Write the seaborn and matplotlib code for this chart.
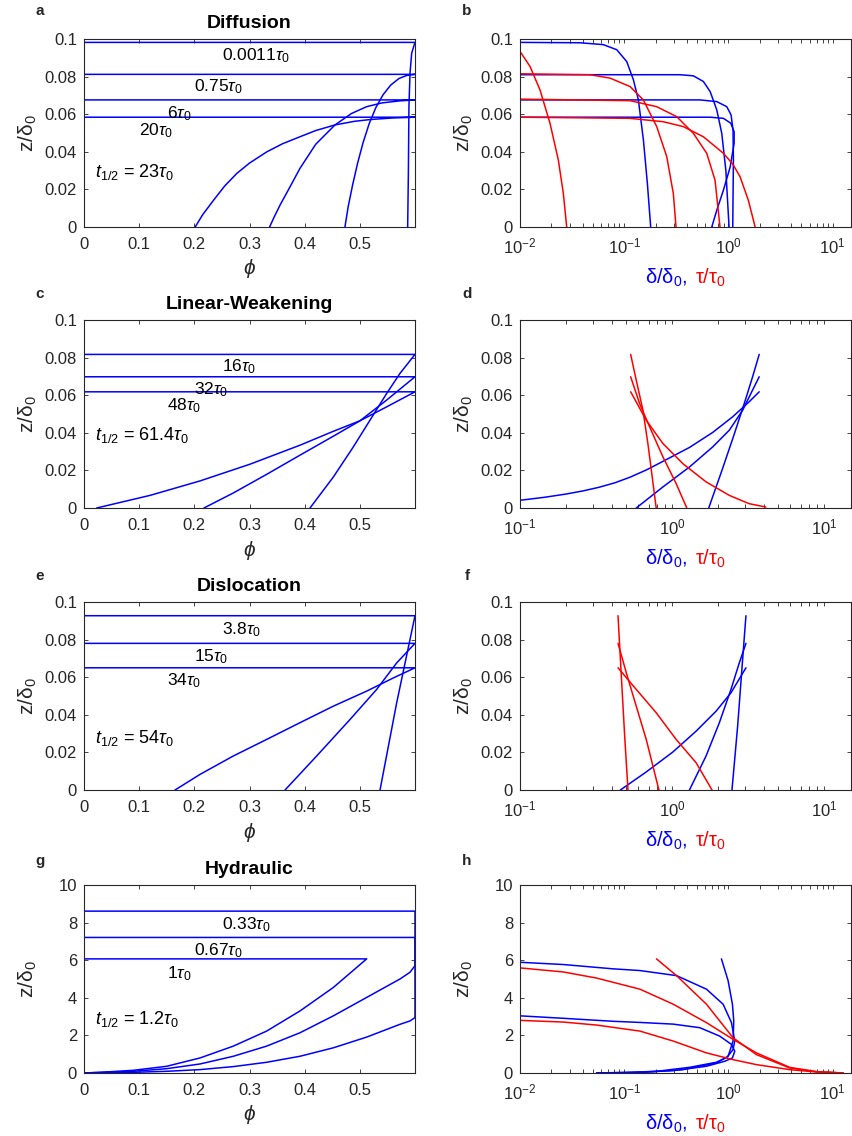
import matplotlib
matplotlib.use("Agg")
import matplotlib.pyplot as plt
import seaborn as sns
from matplotlib.ticker import FuncFormatter, FixedLocator
from matplotlib.offsetbox import TextArea, HPacker, AnchoredOffsetbox

sns.set_theme(style="ticks")
plt.rcParams.update({
    "font.family": ["Liberation Sans", "DejaVu Sans"],
    "mathtext.fontset": "custom",
    "mathtext.rm": "Liberation Sans",
    "mathtext.it": "Liberation Sans:italic",
    "mathtext.bf": "Liberation Sans:bold",
    "axes.edgecolor": "0.15",
    "axes.linewidth": 0.8,
    "xtick.color": "0.15",
    "ytick.color": "0.15",
    "axes.labelcolor": "0.15",
})

# --------------------------------------------------------------------------- #
# Data (phi profiles: top line then curve down to z=0)
# --------------------------------------------------------------------------- #

# (a) Diffusion
DIFF_LABELS = ["0.0011", "0.75", "6", "20"]
DIFF_PHI = [
    [0, 0.6, 0.594, 0.591, 0.589, 0.588, 0.5867],
    [0, 0.6, 0.586, 0.571, 0.556, 0.542, 0.529, 0.517, 0.506, 0.496, 0.487, 0.479, 0.473],
    [0, 0.6, 0.5728, 0.54, 0.5124, 0.485, 0.455, 0.42, 0.3915, 0.37, 0.356, 0.345, 0.3364],
    [0, 0.6, 0.56, 0.52, 0.49, 0.455, 0.42, 0.3915, 0.36, 0.3315, 0.30, 0.277, 0.255,
     0.2347, 0.215, 0.2015],
]
DIFF_Z = [
    [0.0982, 0.0982, 0.0925, 0.0819, 0.064, 0.0287, 0.0],
    [0.0812, 0.0812, 0.0807, 0.079, 0.0755, 0.0703, 0.0635, 0.055, 0.045, 0.034, 0.0225, 0.011, 0.0],
    [0.0676, 0.0676, 0.0671, 0.066, 0.064, 0.0604, 0.0543, 0.044, 0.0312, 0.0195, 0.012, 0.0055, 0.0],
    [0.0584, 0.0584, 0.058, 0.0572, 0.0562, 0.0543, 0.0513, 0.048, 0.0443, 0.04, 0.034, 0.0285,
     0.0218, 0.0142, 0.0065, 0.0],
]
# (b) Diffusion: slip (blue) and stress (red) vs depth
DIFF_DELTA = [
    [0.01, 0.0377, 0.063, 0.0848, 0.1057, 0.1225, 0.1368, 0.1528, 0.1668, 0.1795],
    [0.01, 0.344, 0.461, 0.575, 0.668, 0.773, 0.863, 0.944, 1.014],
    [0.01, 0.533, 0.773, 0.964, 1.06, 1.107, 1.116, 1.10],
    [0.01, 0.668, 0.895, 1.054, 1.134, 1.134, 1.04, 0.895, 0.773, 0.692],
]
DIFF_DELTA_Z = [
    [0.0982, 0.098, 0.097, 0.0943, 0.088, 0.0783, 0.0676, 0.0463, 0.0232, 0.0],
    [0.081, 0.081, 0.0804, 0.0774, 0.072, 0.0623, 0.0498, 0.0303, 0.0],
    [0.0676, 0.0676, 0.0667, 0.064, 0.0596, 0.0516, 0.0356, 0.0],
    [0.0584, 0.0584, 0.0578, 0.0552, 0.0507, 0.0445, 0.032, 0.0196, 0.0089, 0.0],
]
DIFF_TAU = [
    [0.01, 0.01248, 0.01556, 0.0194, 0.02333, 0.02606, 0.02806],
    [0.01, 0.047, 0.0731, 0.1138, 0.1525, 0.205, 0.256, 0.296, 0.314],
    [0.01, 0.1138, 0.205, 0.319, 0.461, 0.619, 0.744, 0.83],
    [0.01, 0.1138, 0.237, 0.369, 0.575, 0.895, 1.1, 1.294, 1.553, 1.804],
]
DIFF_TAU_Z = [
    [0.0934, 0.0854, 0.0729, 0.0552, 0.0356, 0.0178, 0.0],
    [0.0815, 0.081, 0.0792, 0.0747, 0.0676, 0.0534, 0.0374, 0.0178, 0.0],
    [0.068, 0.0672, 0.064, 0.0587, 0.0498, 0.0392, 0.0249, 0.0],
    [0.0584, 0.0578, 0.056, 0.0534, 0.048, 0.0392, 0.0335, 0.0267, 0.0142, 0.0],
]

# (c) Linear-Weakening
LW_LABELS = ["16", "32", "48"]
LW_PHI = [
    [0, 0.6, 0.5728, 0.5486, 0.5184, 0.4882, 0.452, 0.4097],
    [0, 0.6, 0.5486, 0.5003, 0.452, 0.3915, 0.3311, 0.2707, 0.2175],
    [0, 0.6, 0.5486, 0.5003, 0.452, 0.3915, 0.3009, 0.2103, 0.1196, 0.023],
]
LW_Z = [
    [0.0817, 0.0817, 0.0716, 0.0609, 0.0467, 0.0325, 0.0165, 0.0],
    [0.0698, 0.0698, 0.0574, 0.0464, 0.0382, 0.0281, 0.0179, 0.008, 0.0],
    [0.0618, 0.0618, 0.0538, 0.0464, 0.0408, 0.0334, 0.0233, 0.0144, 0.0067, 0.0],
]
# (d)
LW_DELTA = [
    [1.741, 2.128, 2.526, 2.982, 3.383, 3.738],
    [0.581, 0.870, 1.30, 1.849, 2.378, 2.908, 3.38, 3.738],
    [0.1, 0.145, 0.2, 0.26, 0.33, 0.42, 0.526, 0.68, 0.870, 1.30, 1.849, 2.50, 3.21, 3.738],
]
LW_DELTA_Z = [
    [0.0, 0.0201, 0.0378, 0.0556, 0.0698, 0.0817],
    [0.0, 0.0112, 0.0218, 0.0325, 0.0414, 0.052, 0.0627, 0.0698],
    [0.0041, 0.0057, 0.0074, 0.0091, 0.011, 0.0134, 0.0163, 0.0203, 0.0248, 0.0322, 0.0402,
     0.0485, 0.0565, 0.0618],
]
LW_TAU = [
    [0.534, 0.581, 0.643, 0.693, 0.740, 0.786],
    [0.534, 0.611, 0.711, 0.870, 1.063, 1.249],
    [0.534, 0.676, 0.870, 1.176, 1.672, 2.378, 3.21, 4.134],
]
LW_TAU_Z = [
    [0.0817, 0.068, 0.052, 0.0343, 0.0165, 0.0],
    [0.0698, 0.0556, 0.0432, 0.0272, 0.013, 0.0],
    [0.0618, 0.0467, 0.0343, 0.0236, 0.0139, 0.0067, 0.0023, 0.0005],
]

# (e) Dislocation
DISL_LABELS = ["3.8", "15", "34"]
DISL_PHI = [
    [0, 0.6, 0.5668, 0.5366],
    [0, 0.6, 0.5668, 0.5305, 0.4822, 0.4218, 0.3644],
    [0, 0.6, 0.5607, 0.5124, 0.452, 0.3915, 0.3311, 0.2707, 0.2103, 0.165],
]
DISL_Z = [
    [0.0927, 0.0927, 0.0464, 0.0],
    [0.078, 0.078, 0.0676, 0.0535, 0.0375, 0.0181, 0.0],
    [0.065, 0.065, 0.0596, 0.0526, 0.0446, 0.0358, 0.0269, 0.0181, 0.0083, 0.0],
]
# (f)
DISL_DELTA = [
    [2.475, 2.697, 2.908, 3.058],
    [1.30, 1.672, 2.045, 2.438, 2.765, 3.058],
    [0.457, 0.676, 1.011, 1.438, 1.944, 2.438, 3.058],
]
DISL_DELTA_Z = [
    [0.0, 0.034, 0.0694, 0.0927],
    [0.0, 0.0181, 0.0358, 0.0535, 0.0676, 0.078],
    [0.0, 0.0096, 0.0202, 0.0313, 0.0419, 0.0517, 0.065],
]
DISL_TAU = [
    [0.441, 0.4637, 0.4877, 0.5128],
    [0.441, 0.5, 0.581, 0.676, 0.819],
    [0.441, 0.581, 0.786, 1.063, 1.438, 1.83],
]
DISL_TAU_Z = [
    [0.0927, 0.0605, 0.0287, 0.0],
    [0.078, 0.0623, 0.0446, 0.0269, 0.0],
    [0.065, 0.0535, 0.0411, 0.0269, 0.0145, 0.0],
]

# (g) Hydraulic
HYD_LABELS = ["0.33", "0.67", "1"]
HYD_PHI = [
    [0, 0.6, 0.6, 0.591, 0.5728, 0.5124, 0.452, 0.3915, 0.3311, 0.2707, 0.2103, 0.1498, 0.0894, 0],
    [0, 0.6, 0.6, 0.591, 0.5728, 0.5124, 0.452, 0.3915, 0.3311, 0.2707, 0.2103, 0.1498, 0.0894, 0],
    [0, 0.5124, 0.452, 0.3915, 0.3311, 0.2707, 0.2103, 0.1498, 0.0894, 0.029, 0],
]
HYD_Z = [
    [8.61, 8.61, 2.95, 2.77, 2.59, 1.91, 1.34, 0.89, 0.57, 0.34, 0.18, 0.09, 0.036, 0],
    [7.21, 7.21, 5.71, 5.36, 5.0, 4.02, 3.04, 2.14, 1.43, 0.89, 0.48, 0.23, 0.09, 0],
    [6.07, 6.07, 4.55, 3.30, 2.23, 1.43, 0.80, 0.357, 0.143, 0.036, 0],
]
# (h)
HYD_DELTA = [
    [0.01, 0.026, 0.0784, 0.1413, 0.295, 0.531, 0.826, 1.069, 1.15, 1.092, 0.922, 0.615, 0.295, 0.12, 0.0543],
    [0.01, 0.026, 0.0784, 0.1413, 0.3175, 0.615, 0.889, 1.069, 1.15, 1.108, 0.970, 0.767, 0.426, 0.204, 0.1, 0.0543],
    [0.857, 0.993, 1.092, 1.125, 1.108, 0.993, 0.767, 0.3676, 0.1413, 0.0543],
]
HYD_DELTA_Z = [
    [3.04, 2.91, 2.75, 2.69, 2.6, 2.41, 1.96, 1.52, 1.16, 0.80, 0.625, 0.357, 0.125, 0.03, 0.0],
    [5.89, 5.77, 5.54, 5.45, 5.18, 4.46, 3.66, 2.68, 1.70, 1.25, 0.84, 0.571, 0.304, 0.089, 0.03, 0.0],
    [6.07, 4.91, 3.66, 2.77, 1.70, 0.89, 0.536, 0.179, 0.02, 0.0],
]
HYD_TAU = [
    [0.01, 0.026, 0.0543, 0.1413, 0.295, 0.615, 1.108, 1.854, 3.87, 6.98, 12.6],
    [0.01, 0.026, 0.0543, 0.1413, 0.295, 0.615, 1.108, 1.854, 3.87, 6.98, 12.6],
    [0.204, 0.3175, 0.615, 1.108, 1.854, 3.87, 6.98, 12.6],
]
HYD_TAU_Z = [
    [2.80, 2.71, 2.55, 2.23, 1.70, 1.07, 0.71, 0.446, 0.179, 0.054, 0.0],
    [5.59, 5.375, 5.05, 4.46, 3.66, 2.68, 1.79, 1.07, 0.30, 0.07, 0.0],
    [6.07, 5.18, 3.66, 1.875, 0.98, 0.268, 0.071, 0.0],
]

HALF_TIMES = ["23", "61.4", "54", "1.2"]
PHI_TICKS = [0, 0.1, 0.2, 0.3, 0.4, 0.5]
Z_TICKS_SMALL = [0, 0.02, 0.04, 0.06, 0.08, 0.1]
Z_TICKS_LARGE = [0, 2, 4, 6, 8, 10]

# --------------------------------------------------------------------------- #
# Layout (pixel geometry of the reference, 852 x 1136)
# --------------------------------------------------------------------------- #
W, H = 852, 1136
AX_W, AX_H = 331, 188
LEFT_X, RIGHT_X = 84, 520
ROW_TOP = [39, 320, 602, 885]

fmt_g = FuncFormatter(lambda v, p: f"{v:g}")


def frac_axes(fig, x, top):
    return fig.add_axes([x / W, 1 - (top + AX_H) / H, AX_W / W, AX_H / H])


def style_axes(ax):
    ax.tick_params(which="both", direction="in", top=True, right=True,
                   length=3, width=0.6, labelsize=12)
    ax.tick_params(axis="x", which="both", pad=7)
    ax.tick_params(axis="y", which="both", pad=5)
    for s in ax.spines.values():
        s.set_color("0.15")
        s.set_linewidth(0.8)
    ax.yaxis.set_major_formatter(fmt_g)
    ax.set_ylabel(r"z/δ$_0$", fontsize=15)
    ax.yaxis.set_label_coords(-0.17, 0.5)
    ax.yaxis.label.set_va("center")


def draw_phi_panel(ax, phis, zs, labels, label_pos, half, half_z, zticks, title):
    for p, z in zip(phis, zs):
        sns.lineplot(x=p, y=z, sort=False, estimator=None, color="blue",
                     linewidth=1.1, ax=ax)
    ax.set_xlim(0, 0.6)
    ax.set_ylim(zticks[0], zticks[-1])
    ax.xaxis.set_major_locator(FixedLocator(PHI_TICKS))
    ax.yaxis.set_major_locator(FixedLocator(zticks))
    ax.xaxis.set_major_formatter(fmt_g)
    style_axes(ax)
    ax.set_xlabel(r"$\phi$", fontsize=15)
    ax.xaxis.set_label_coords(0.5, -42 / AX_H)
    ax.xaxis.label.set_va("center")
    for lab, (px, pz) in zip(labels, label_pos):
        ax.text(px, pz, lab + r"$\tau_0$", fontsize=12.5, va="center", ha="left",
                color="black")
    ax.text(0.02, half_z, r"$t_{1/2}$ = " + half + r"$\tau_0$", fontsize=13,
            va="center", ha="left", color="black")
    ax.text(0.5, 1 + 15.5 / AX_H, title, transform=ax.transAxes, ha="center",
            va="center", fontsize=14, fontweight="bold", color="black")


def draw_profile_panel(ax, deltas, dzs, taus, tzs, xmin, zticks):
    ax.set_xscale("log")
    for x, z in zip(deltas, dzs):
        sns.lineplot(x=x, y=z, sort=False, estimator=None, color="blue",
                     linewidth=1.1, ax=ax)
    for x, z in zip(taus, tzs):
        sns.lineplot(x=x, y=z, sort=False, estimator=None, color="red",
                     linewidth=1.1, ax=ax)
    ax.set_xlim(xmin, 15)
    ax.set_ylim(zticks[0], zticks[-1])
    ax.yaxis.set_major_locator(FixedLocator(zticks))
    style_axes(ax)
    ax.set_xlabel("")
    parts = [TextArea(r"δ/δ$_0$,", textprops=dict(color="blue", fontsize=14.5)),
             TextArea(r"τ/τ$_0$", textprops=dict(color="red", fontsize=14.5))]
    box = HPacker(children=parts, align="baseline", pad=0, sep=5)
    anchored = AnchoredOffsetbox(loc="center", child=box, pad=0, borderpad=0,
                                 frameon=False, bbox_to_anchor=(0.5, -51 / AX_H),
                                 bbox_transform=ax.transAxes)
    ax.add_artist(anchored)


fig = plt.figure(figsize=(W / 100, H / 100), dpi=100)

left_specs = [
    (DIFF_PHI, DIFF_Z, DIFF_LABELS,
     [(0.25, 0.0909), (0.2, 0.0744), (0.15, 0.0603), (0.1, 0.0512)], 0.0293,
     Z_TICKS_SMALL, "Diffusion"),
    (LW_PHI, LW_Z, LW_LABELS,
     [(0.25, 0.075), (0.2, 0.0631), (0.15, 0.0543)], 0.0387,
     Z_TICKS_SMALL, "Linear-Weakening"),
    (DISL_PHI, DISL_Z, DISL_LABELS,
     [(0.25, 0.0851), (0.2, 0.0708), (0.15, 0.058)], 0.0278,
     Z_TICKS_SMALL, "Dislocation"),
    (HYD_PHI, HYD_Z, HYD_LABELS,
     [(0.25, 7.91), (0.2, 6.52), (0.15, 5.27)], 2.86,
     Z_TICKS_LARGE, "Hydraulic"),
]
right_specs = [
    (DIFF_DELTA, DIFF_DELTA_Z, DIFF_TAU, DIFF_TAU_Z, 0.01, Z_TICKS_SMALL),
    (LW_DELTA, LW_DELTA_Z, LW_TAU, LW_TAU_Z, 0.1, Z_TICKS_SMALL),
    (DISL_DELTA, DISL_DELTA_Z, DISL_TAU, DISL_TAU_Z, 0.1, Z_TICKS_SMALL),
    (HYD_DELTA, HYD_DELTA_Z, HYD_TAU, HYD_TAU_Z, 0.01, Z_TICKS_LARGE),
]
letters = [("a", "b"), ("c", "d"), ("e", "f"), ("g", "h")]
letter_y = [11, 294, 576, 861]

for row, top in enumerate(ROW_TOP):
    phis, zs, labels, lpos, hz, zt, title = left_specs[row]
    ax_l = frac_axes(fig, LEFT_X, top)
    draw_phi_panel(ax_l, phis, zs, labels, lpos, HALF_TIMES[row], hz, zt, title)

    dl, dz, tl, tz, xmin, zt2 = right_specs[row]
    ax_r = frac_axes(fig, RIGHT_X, top)
    draw_profile_panel(ax_r, dl, dz, tl, tz, xmin, zt2)

    fig.text(40 / W, 1 - letter_y[row] / H, letters[row][0], ha="center",
             va="center", fontsize=11, fontweight="bold")
    fig.text(467 / W, 1 - letter_y[row] / H, letters[row][1], ha="center",
             va="center", fontsize=11, fontweight="bold")

fig.savefig("out.png", dpi=100)
